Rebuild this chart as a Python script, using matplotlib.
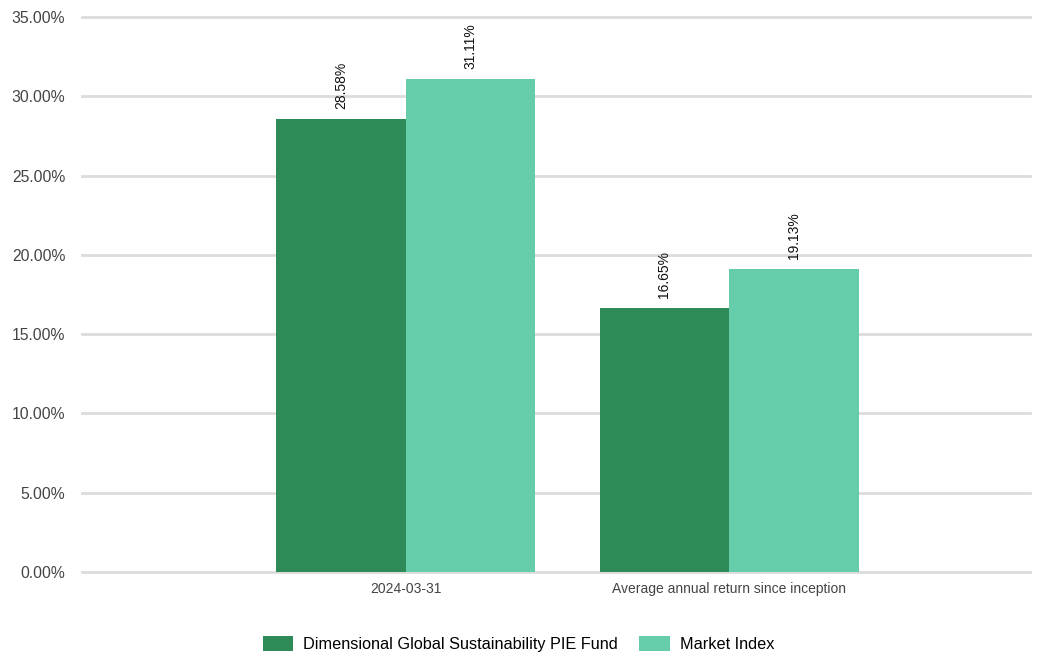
import numpy as np
import matplotlib.pyplot as plt
from matplotlib.ticker import FuncFormatter

plt.rcParams['font.family'] = ['Liberation Sans', 'DejaVu Sans']

categories = ['2024-03-31', 'Average annual return since inception']
fund = [28.58, 16.65]
index = [31.11, 19.13]
series_names = ['Dimensional Global Sustainability PIE Fund', 'Market Index']
colors = ['#2e8b57', '#66cdaa']

fig = plt.figure(figsize=(10.43, 6.53), dpi=100)
ax = fig.add_axes([0.0786, 0.124, 0.909, 0.85])

x = np.arange(len(categories))
w = 0.4
b1 = ax.bar(x - w / 2, fund, w, color=colors[0], label=series_names[0], zorder=3)
b2 = ax.bar(x + w / 2, index, w, color=colors[1], label=series_names[1], zorder=3)

for bars, vals in ((b1, fund), (b2, index)):
    for r, v in zip(bars, vals):
        ax.annotate(f'{v:.2f}%', (r.get_x() + r.get_width() / 2, v),
                    xytext=(0, 7), textcoords='offset points',
                    rotation=90, ha='center', va='bottom', fontsize=10, color='#111111')

ax.set_ylim(0, 35)
ax.set_yticks(np.arange(0, 35.1, 5))
ax.yaxis.set_major_formatter(FuncFormatter(lambda v, p: f'{v:.2f}%'))
ax.set_xlim(-1.0, 1.93)
ax.set_xticks(x)
ax.set_xticklabels(categories)
ax.grid(axis='y', color='#dcdcdc', linewidth=2, zorder=0)
for gl in ax.get_ygridlines():
    gl.set_clip_on(False)
for s in ax.spines.values():
    s.set_visible(False)
ax.tick_params(axis='y', length=0, pad=12, labelsize=11.3, labelcolor='#444444')
ax.tick_params(axis='x', length=0, pad=7.5, labelsize=10, labelcolor='#444444')

fig.legend(loc='lower center', bbox_to_anchor=(0.497, -0.021), ncol=2, frameon=False,
           fontsize=11.7, handlelength=1.9, handleheight=1.0, columnspacing=1.3,
           handletextpad=0.6)

fig.savefig('out.png', dpi=100)
